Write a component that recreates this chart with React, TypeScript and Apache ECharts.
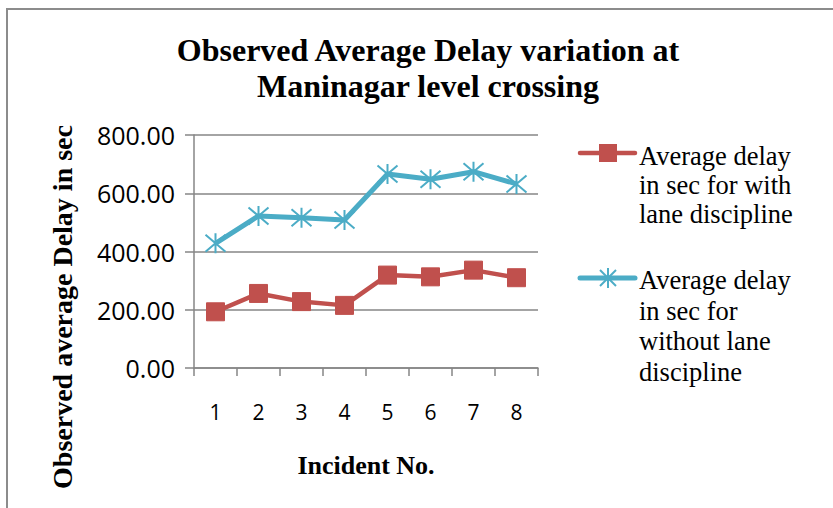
import React, { useEffect, useRef } from "react";
import * as echarts from "echarts";

const categories = ["1", "2", "3", "4", "5", "6", "7", "8"];
const withLane = [193, 256, 228, 215, 319, 313, 336, 310];
const withoutLane = [428, 522, 516, 508, 666, 648, 674, 632];
const yTicks = { min: 0, max: 800, interval: 200 };
const titleLines = ["Observed Average Delay variation at", "Maninagar level crossing"];
const legendWith = ["Average delay", "in sec for with", "lane discipline"];
const legendWithout = ["Average delay", "in sec for", "without lane", "discipline"];

const RED = "#C0504D";
const BLUE = "#4BACC6";
const GRID = "#868686";
const STAR = "path://M0,-10L0,10M-8.5,-8.5L8.5,8.5M-8.5,8.5L8.5,-8.5";

export default function App() {
  const ref = useRef<HTMLDivElement>(null);
  useEffect(() => {
    if (!ref.current) return;
    const chart = echarts.init(ref.current, null, { renderer: "svg" });
    const serif = "'Liberation Serif', 'Times New Roman', serif";
    const sans = "'Open Sans', 'Liberation Sans', sans-serif";
    const legendText = (lines: string[], x: number, y0: number, lh: number) =>
      lines.map((t, i) => ({
        type: "text",
        x,
        y: y0 + i * lh,
        style: { text: t, font: `26.5px ${serif}`, fill: "#000", textAlign: "left", textVerticalAlign: "middle" },
      }));
    chart.setOption({
      animation: false,
      backgroundColor: "#fff",
      grid: { left: 194, right: 295, top: 135, bottom: 140 },
      xAxis: {
        type: "category",
        data: categories,
        boundaryGap: true,
        name: "Incident No.",
        nameLocation: "middle",
        nameGap: 84,
        nameTextStyle: { fontFamily: serif, fontWeight: "bold", fontSize: 26, color: "#000" },
        axisLine: { lineStyle: { color: GRID, width: 1.5 } },
        axisTick: { show: true, alignWithLabel: false, length: 8, lineStyle: { color: GRID, width: 1.5 } },
        axisLabel: { color: "#000", fontFamily: sans, fontSize: 21, margin: 33 },
        splitLine: { show: false },
      },
      yAxis: {
        type: "value",
        min: yTicks.min,
        max: yTicks.max,
        interval: yTicks.interval,
        axisLine: { show: true, lineStyle: { color: GRID, width: 1.5 } },
        axisTick: { show: true, length: 9, lineStyle: { color: GRID, width: 1.5 } },
        axisLabel: { color: "#000", fontFamily: sans, fontSize: 25, margin: 19, formatter: (v: number) => v.toFixed(2) },
        splitLine: { show: true, lineStyle: { color: GRID, width: 1.5 } },
      },
      series: [
        {
          name: "Average delay in sec for with lane discipline",
          type: "line",
          data: withLane,
          symbol: "rect",
          symbolSize: 18,
          lineStyle: { color: RED, width: 4.5 },
          itemStyle: { color: RED, borderColor: RED, borderWidth: 1 },
        },
        {
          name: "Average delay in sec for without lane discipline",
          type: "line",
          data: withoutLane,
          symbol: STAR,
          symbolSize: 20,
          lineStyle: { color: BLUE, width: 5 },
          itemStyle: { color: BLUE, borderColor: BLUE, borderWidth: 2 },
        },
      ],
      graphic: [
        {
          type: "rect",
          shape: { x: 7, y: 9, width: 900, height: 600 },
          style: { fill: "none", stroke: "#8c8c8c", lineWidth: 2 },
          silent: true,
        },
        ...titleLines.map((t, i) => ({
          type: "text",
          x: 428,
          y: 50 + i * 36,
          style: { text: t, font: `bold 32px ${serif}`, fill: "#000", textAlign: "center", textVerticalAlign: "middle" },
        })),
        {
          type: "text",
          x: 62,
          y: 307,
          rotation: Math.PI / 2,
          style: {
            text: "Observed average Delay in sec",
            font: `bold 28px ${serif}`,
            fill: "#000",
            textAlign: "center",
            textVerticalAlign: "middle",
          },
        },
        { type: "line", shape: { x1: 580, y1: 153, x2: 635, y2: 153 }, style: { stroke: RED, lineWidth: 4.5, lineCap: "round" } },
        { type: "rect", shape: { x: 599, y: 144, width: 18, height: 18 }, style: { fill: RED } },
        ...legendText(legendWith, 639, 156, 29),
        { type: "line", shape: { x1: 580, y1: 278, x2: 635, y2: 278 }, style: { stroke: BLUE, lineWidth: 5, lineCap: "round" } },
        { type: "line", shape: { x1: 608, y1: 268, x2: 608, y2: 288 }, style: { stroke: BLUE, lineWidth: 2 } },
        { type: "line", shape: { x1: 600, y1: 270, x2: 616, y2: 286 }, style: { stroke: BLUE, lineWidth: 2 } },
        { type: "line", shape: { x1: 600, y1: 286, x2: 616, y2: 270 }, style: { stroke: BLUE, lineWidth: 2 } },
        ...legendText(legendWithout, 639, 280, 30.5),
      ],
    });
    return () => chart.dispose();
  }, []);
  return <div ref={ref} style={{ position: "fixed", left: 0, top: 0, width: 833, height: 508 }} />;
}
